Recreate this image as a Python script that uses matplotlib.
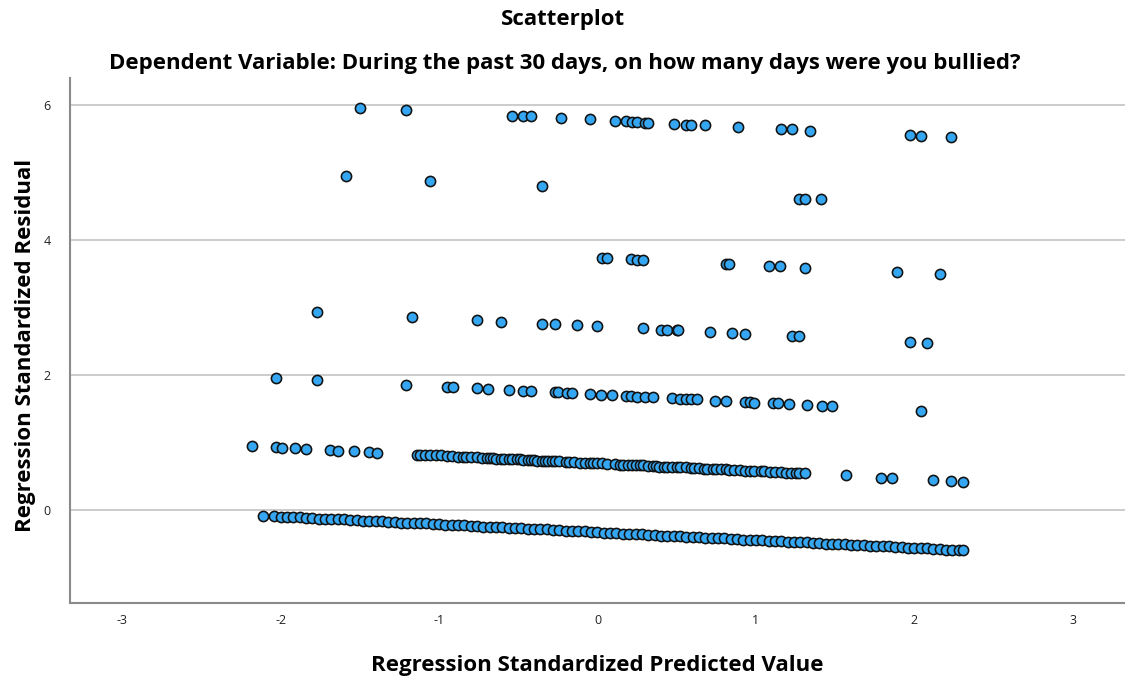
import matplotlib
import matplotlib.pyplot as plt
import numpy as np

matplotlib.rcParams["axes.unicode_minus"] = False
matplotlib.rcParams["font.family"] = ["Open Sans", "DejaVu Sans"]

# standardized predicted value / standardized residual, one pair of lists per response level
pred_0 = [-2.11, -2.04, -2.00, -1.96, -1.92, -1.88, -1.84, -1.80, -1.76, -1.72,
          -1.68, -1.64, -1.60, -1.56, -1.52, -1.48, -1.44, -1.40, -1.36, -1.32,
          -1.28, -1.24, -1.20, -1.16, -1.12, -1.08, -1.04, -1.00, -0.96, -0.92,
          -0.88, -0.84, -0.80, -0.76, -0.72, -0.68, -0.64, -0.60, -0.56, -0.52,
          -0.48, -0.44, -0.40, -0.36, -0.32, -0.28, -0.24, -0.20, -0.16, -0.12,
          -0.08, -0.04, 0.00, 0.04, 0.08, 0.12, 0.16, 0.20, 0.24, 0.28,
          0.32, 0.36, 0.40, 0.44, 0.48, 0.52, 0.56, 0.60, 0.64, 0.68,
          0.72, 0.76, 0.80, 0.84, 0.88, 0.92, 0.96, 1.00, 1.04, 1.08,
          1.12, 1.16, 1.20, 1.24, 1.28, 1.32, 1.36, 1.40, 1.44, 1.48,
          1.52, 1.56, 1.60, 1.64, 1.68, 1.72, 1.76, 1.80, 1.84, 1.88,
          1.92, 1.96, 2.00, 2.04, 2.08, 2.12, 2.16, 2.20, 2.24, 2.28, 2.31]
resid_0 = [-0.09, -0.09, -0.10, -0.10, -0.11, -0.11, -0.12, -0.12, -0.13, -0.13,
           -0.13, -0.14, -0.14, -0.15, -0.15, -0.16, -0.16, -0.17, -0.17, -0.18,
           -0.18, -0.19, -0.19, -0.20, -0.20, -0.20, -0.21, -0.21, -0.22, -0.22,
           -0.23, -0.23, -0.24, -0.24, -0.25, -0.25, -0.26, -0.26, -0.27, -0.27,
           -0.27, -0.28, -0.28, -0.29, -0.29, -0.30, -0.30, -0.31, -0.31, -0.32,
           -0.32, -0.33, -0.33, -0.34, -0.34, -0.34, -0.35, -0.35, -0.36, -0.36,
           -0.37, -0.37, -0.38, -0.38, -0.39, -0.39, -0.40, -0.40, -0.40, -0.41,
           -0.41, -0.42, -0.42, -0.43, -0.43, -0.44, -0.44, -0.45, -0.45, -0.46,
           -0.46, -0.46, -0.47, -0.47, -0.48, -0.48, -0.49, -0.49, -0.50, -0.50,
           -0.51, -0.51, -0.52, -0.52, -0.52, -0.53, -0.53, -0.54, -0.54, -0.55,
           -0.55, -0.56, -0.56, -0.57, -0.57, -0.58, -0.58, -0.59, -0.59, -0.59, -0.60]

pred_1 = [-2.18, -2.03, -1.99, -1.91, -1.84, -1.69, -1.64, -1.54, -1.44, -1.39,
          -1.14, -1.12, -1.09, -1.06, -1.02, -0.99, -0.95, -0.92, -0.88, -0.85,
          -0.83, -0.80, -0.76, -0.73, -0.70, -0.68, -0.66, -0.64, -0.61, -0.59,
          -0.56, -0.54, -0.51, -0.49, -0.47, -0.44, -0.42, -0.40, -0.38, -0.35,
          -0.33, -0.31, -0.29, -0.27, -0.24, -0.20, -0.18, -0.15, -0.11, -0.08,
          -0.05, -0.03, 0.00, 0.03, 0.06, 0.11, 0.14, 0.16, 0.19, 0.22,
          0.24, 0.27, 0.29, 0.32, 0.35, 0.37, 0.39, 0.42, 0.44, 0.47,
          0.50, 0.52, 0.56, 0.59, 0.61, 0.64, 0.67, 0.69, 0.73, 0.75,
          0.78, 0.81, 0.83, 0.86, 0.90, 0.93, 0.96, 0.99, 1.03, 1.05,
          1.09, 1.12, 1.16, 1.19, 1.22, 1.25, 1.27, 1.31, 1.57, 1.79,
          1.86, 2.12, 2.23, 2.31]
resid_1 = [0.94, 0.93, 0.92, 0.91, 0.90, 0.89, 0.88, 0.87, 0.86, 0.85,
           0.82, 0.82, 0.82, 0.81, 0.81, 0.81, 0.80, 0.80, 0.79, 0.79,
           0.79, 0.78, 0.78, 0.77, 0.77, 0.77, 0.77, 0.76, 0.76, 0.76,
           0.75, 0.75, 0.75, 0.75, 0.74, 0.74, 0.74, 0.74, 0.73, 0.73,
           0.73, 0.73, 0.72, 0.72, 0.72, 0.71, 0.71, 0.71, 0.70, 0.70,
           0.70, 0.69, 0.69, 0.69, 0.68, 0.68, 0.67, 0.67, 0.67, 0.66,
           0.66, 0.66, 0.66, 0.65, 0.65, 0.65, 0.64, 0.64, 0.64, 0.64,
           0.63, 0.63, 0.63, 0.62, 0.62, 0.62, 0.61, 0.61, 0.61, 0.60,
           0.60, 0.60, 0.59, 0.59, 0.59, 0.58, 0.58, 0.58, 0.57, 0.57,
           0.56, 0.56, 0.56, 0.55, 0.55, 0.55, 0.54, 0.54, 0.51, 0.48,
           0.47, 0.44, 0.43, 0.42]

pred_2 = [-2.03, -1.77, -1.21, -0.95, -0.91, -0.76, -0.69, -0.56, -0.47, -0.42,
          -0.27, -0.25, -0.19, -0.16, -0.05, 0.02, 0.09, 0.18, 0.21, 0.25,
          0.30, 0.35, 0.47, 0.52, 0.56, 0.59, 0.63, 0.74, 0.81, 0.93,
          0.96, 0.99, 1.11, 1.14, 1.21, 1.32, 1.42, 1.48, 2.04]
resid_2 = [1.95, 1.92, 1.85, 1.82, 1.82, 1.80, 1.79, 1.78, 1.76, 1.76,
           1.74, 1.74, 1.73, 1.73, 1.72, 1.71, 1.70, 1.69, 1.69, 1.68,
           1.67, 1.67, 1.66, 1.65, 1.64, 1.64, 1.64, 1.62, 1.62, 1.60,
           1.60, 1.59, 1.58, 1.58, 1.57, 1.56, 1.54, 1.54, 1.47]

pred_3 = [-1.77, -1.17, -0.76, -0.61, -0.35, -0.27, -0.13, 0.00, 0.29, 0.40,
          0.44, 0.50, 0.51, 0.71, 0.85, 0.93, 1.23, 1.27, 1.97, 2.08]
resid_3 = [2.93, 2.86, 2.81, 2.79, 2.76, 2.75, 2.74, 2.72, 2.69, 2.67,
           2.67, 2.66, 2.66, 2.64, 2.62, 2.61, 2.58, 2.57, 2.49, 2.48]

pred_4 = [0.03, 0.06, 0.21, 0.25, 0.29, 0.81, 0.83, 1.08, 1.15, 1.31, 1.89, 2.16]
resid_4 = [3.74, 3.73, 3.72, 3.71, 3.71, 3.65, 3.64, 3.61, 3.61, 3.59, 3.52, 3.49]

pred_5 = [-1.59, -1.06, -0.35, 1.27, 1.31, 1.41]
resid_5 = [4.95, 4.88, 4.80, 4.61, 4.61, 4.60]

pred_6 = [-1.50, -1.21, -0.54, -0.47, -0.42, -0.23, -0.05, 0.11, 0.18, 0.22,
          0.25, 0.30, 0.32, 0.48, 0.56, 0.59, 0.68, 0.89, 1.16, 1.23,
          1.34, 1.97, 2.04, 2.23]
resid_6 = [5.96, 5.92, 5.84, 5.83, 5.83, 5.81, 5.79, 5.77, 5.76, 5.75,
           5.75, 5.74, 5.74, 5.72, 5.71, 5.71, 5.70, 5.68, 5.64, 5.64,
           5.62, 5.55, 5.54, 5.52]

x_ticks = [-3, -2, -1, 0, 1, 2, 3]
y_ticks = [0, 2, 4, 6]

pred = np.concatenate([pred_0, pred_1, pred_2, pred_3, pred_4, pred_5, pred_6])
resid = np.concatenate([resid_0, resid_1, resid_2, resid_3, resid_4, resid_5, resid_6])

fig = plt.figure(figsize=(11.25, 6.79), dpi=100)
ax = fig.add_axes([0.0622, 0.1119, 0.9378, 0.7732])

ax.scatter(pred, resid, s=54, c="#35a7f2", edgecolors="#111111",
           linewidths=1.15, zorder=3)

ax.set_xlim(-3.33, 3.33)
ax.set_ylim(-1.38, 6.4)
ax.set_xticks(x_ticks)
ax.set_yticks(y_ticks)
ax.tick_params(length=0, labelsize=9, colors="#222222")
ax.tick_params(axis="x", pad=8)
ax.tick_params(axis="y", pad=14)

ax.yaxis.grid(True, color="#cccccc", linewidth=1.4)
ax.set_axisbelow(True)
for side in ["top", "right"]:
    ax.spines[side].set_visible(False)
for side in ["left", "bottom"]:
    ax.spines[side].set_color("#8a8a8a")
    ax.spines[side].set_linewidth(1.5)

ax.set_xlabel("Regression Standardized Predicted Value", fontsize=16,
              fontweight="bold", labelpad=20)
ax.set_ylabel("Regression Standardized Residual", fontsize=16,
              fontweight="bold", labelpad=5)
ax.yaxis.label.set_y(0.49)

fig.text(0.5, 0.972, "Scatterplot", ha="center", va="center",
         fontsize=16, fontweight="bold")
fig.text(0.502, 0.906,
         "Dependent Variable: During the past 30 days, on how many days were you bullied?",
         ha="center", va="center", fontsize=16, fontweight="bold")

fig.savefig("out.png", dpi=100)
